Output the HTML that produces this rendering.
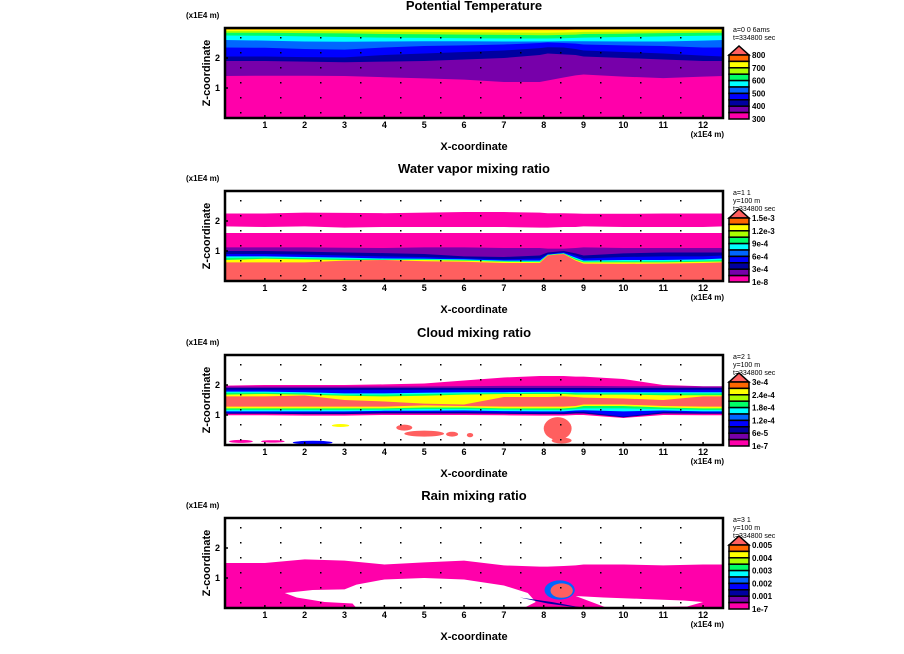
<!DOCTYPE html>
<html><head><meta charset="utf-8">
<style>
html,body{margin:0;padding:0;background:#fff;}
svg{display:block;font-family:"Liberation Sans",sans-serif;}
.t{font-size:13px;font-weight:bold;}
.s{font-size:8px;font-weight:bold;}
.k{font-size:9px;font-weight:bold;}
</style></head>
<body>
<svg id="c" width="904" height="654" viewBox="0 0 904 654"></svg>
<script>
// ---- data ----
const xTicks = [1,2,3,4,5,6,7,8,9,10,11,12];
const zTicks = [1,2];
const titles = ["Potential Temperature","Water vapor mixing ratio","Cloud mixing ratio","Rain mixing ratio"];
const legendColors = ["#ff6600","#ffff00","#aaff00","#00ff66","#00ffff","#0066ff","#0000ff","#0000a0","#7700aa","#ff00aa"];
const overColor = "#ff5f5f";
const legendLabels1 = ["800","700","600","500","400","300"];
const legendLabels2 = ["1.5e-3","1.2e-3","9e-4","6e-4","3e-4","1e-8"];
const legendLabels3 = ["3e-4","2.4e-4","1.8e-4","1.2e-4","6e-5","1e-7"];
const legendLabels4 = ["0.005","0.004","0.003","0.002","0.001","1e-7"];
const headers = [["a=0 0 6ams","t=334800 sec"],["a=1 1","y=100 m","t=334800 sec"],["a=2 1","y=100 m","t=334800 sec"],["a=3 1","y=100 m","t=334800 sec"]];
const xs = [0,1,2,3,4,5,6,7,7.9,8.1,8.5,8.8,9,10,11,12,12.5];
// panel 1 layer tops (km*1e4 units), drawn largest first
const p1Colors = ["#ff6600","#ffff00","#aaff00","#00ff66","#00ffff","#0066ff","#0000ff","#0000a0","#7700aa","#ff00aa"];
const p1Tops = [
 [3,3,3,3,3,3,3,3,3,3,3,3,3,3,3,3,3],
 [2.95,2.95,2.95,2.95,2.95,2.95,2.94,2.93,2.93,2.93,2.93,2.94,2.94,2.95,2.95,2.95,2.95],
 [2.9,2.9,2.9,2.89,2.88,2.87,2.86,2.85,2.84,2.84,2.85,2.86,2.87,2.88,2.89,2.9,2.9],
 [2.84,2.84,2.83,2.82,2.8,2.79,2.78,2.77,2.76,2.76,2.77,2.78,2.8,2.81,2.83,2.84,2.84],
 [2.75,2.74,2.72,2.7,2.68,2.67,2.66,2.65,2.65,2.65,2.66,2.67,2.68,2.7,2.72,2.74,2.75],
 [2.6,2.58,2.55,2.54,2.55,2.56,2.56,2.55,2.55,2.55,2.56,2.56,2.56,2.55,2.55,2.58,2.6],
 [2.35,2.34,2.3,2.28,2.35,2.4,2.42,2.45,2.5,2.52,2.5,2.48,2.45,2.42,2.4,2.35,2.35],
 [2.05,2.05,2.03,2.02,2.1,2.15,2.2,2.25,2.33,2.36,2.35,2.3,2.25,2.2,2.15,2.08,2.05],
 [1.9,1.9,1.88,1.86,1.88,1.9,1.95,2.0,2.1,2.15,2.12,2.1,2.05,2.0,1.95,1.9,1.9],
 [1.4,1.41,1.41,1.4,1.36,1.32,1.28,1.2,1.2,1.25,1.35,1.42,1.45,1.38,1.33,1.38,1.4]
];
// panel 2
const p2Colors = ["#ff00aa","#ffffff","#ff00aa","#7700aa","#0000a0","#0000ff","#00ffff","#00ff66","#ffff00","#ff5f5f"];
const p2Tops = [
 [2.25,2.25,2.28,2.27,2.26,2.28,2.3,2.3,2.28,2.26,2.26,2.25,2.24,2.24,2.25,2.25,2.25],
 [1.82,1.8,1.82,1.78,1.8,1.8,1.8,1.8,1.78,1.78,1.8,1.8,1.82,1.8,1.8,1.8,1.82],
 [1.6,1.6,1.6,1.6,1.6,1.6,1.6,1.6,1.6,1.6,1.6,1.6,1.6,1.6,1.6,1.6,1.6],
 [1.12,1.12,1.12,1.11,1.1,1.12,1.12,1.1,1.1,1.08,1.08,1.1,1.12,1.1,1.1,1.1,1.1],
 [1.0,1.0,0.98,0.95,0.93,0.9,0.82,0.8,0.85,0.95,1.0,0.92,0.85,0.92,0.95,0.95,0.95],
 [0.9,0.9,0.88,0.85,0.82,0.8,0.76,0.72,0.75,0.9,0.96,0.85,0.75,0.8,0.82,0.82,0.85],
 [0.82,0.82,0.8,0.78,0.75,0.74,0.72,0.68,0.68,0.88,0.93,0.78,0.68,0.7,0.7,0.72,0.75],
 [0.77,0.78,0.76,0.74,0.72,0.72,0.7,0.66,0.65,0.87,0.92,0.74,0.65,0.66,0.66,0.68,0.7],
 [0.7,0.74,0.72,0.7,0.7,0.7,0.68,0.64,0.63,0.86,0.91,0.71,0.62,0.62,0.62,0.64,0.65],
 [0.62,0.62,0.62,0.68,0.7,0.66,0.64,0.6,0.6,0.85,0.9,0.68,0.58,0.57,0.58,0.6,0.62]
];
// panel 3
const p3Colors = ["#ff00aa","#7700aa","#0000a0","#0000ff","#00ffff","#00ff66","#ffff00","#ff5f5f","#ffff00","#00ff66","#00ffff","#0000ff","#0000a0","#ff00aa","#ffffff"];
const p3Tops = [
 [1.98,2.0,2.0,2.0,2.02,2.05,2.15,2.25,2.3,2.3,2.3,2.28,2.28,2.2,2.0,1.96,1.96],
 [1.95,1.95,1.95,1.95,1.95,1.95,1.96,1.97,1.97,1.97,1.97,1.97,1.97,1.96,1.96,1.95,1.95],
 [1.9,1.9,1.9,1.9,1.9,1.9,1.9,1.9,1.9,1.9,1.9,1.9,1.9,1.9,1.9,1.9,1.9],
 [1.84,1.84,1.84,1.84,1.84,1.84,1.84,1.84,1.84,1.84,1.84,1.84,1.84,1.84,1.84,1.84,1.84],
 [1.78,1.78,1.76,1.72,1.72,1.74,1.76,1.76,1.77,1.77,1.77,1.76,1.76,1.76,1.76,1.76,1.76],
 [1.74,1.74,1.72,1.68,1.68,1.7,1.72,1.73,1.74,1.74,1.74,1.73,1.72,1.72,1.72,1.72,1.72],
 [1.68,1.7,1.68,1.64,1.62,1.64,1.68,1.7,1.7,1.7,1.7,1.68,1.68,1.68,1.66,1.66,1.66],
 [1.62,1.62,1.65,1.5,1.45,1.38,1.35,1.6,1.6,1.6,1.62,1.6,1.58,1.55,1.5,1.62,1.62],
 [1.28,1.28,1.28,1.28,1.28,1.32,1.3,1.28,1.28,1.28,1.28,1.3,1.35,1.35,1.3,1.28,1.28],
 [1.22,1.22,1.22,1.22,1.22,1.25,1.25,1.22,1.22,1.22,1.22,1.25,1.3,1.3,1.25,1.22,1.22],
 [1.17,1.17,1.17,1.17,1.18,1.2,1.2,1.18,1.17,1.17,1.17,1.2,1.22,1.22,1.2,1.17,1.17],
 [1.12,1.12,1.12,1.12,1.14,1.14,1.15,1.13,1.12,1.12,1.12,1.15,1.16,1.12,1.15,1.12,1.12],
 [1.08,1.08,1.08,1.08,1.1,1.1,1.1,1.08,1.08,1.08,1.08,1.1,1.1,0.95,1.1,1.08,1.08],
 [1.04,1.04,1.03,1.03,1.05,1.05,1.05,1.04,1.03,1.03,1.03,1.05,1.05,0.92,1.05,1.04,1.04],
 [0.99,0.99,0.98,0.98,1.0,1.0,1.0,0.99,0.98,0.98,0.98,1.0,1.0,0.9,1.0,0.99,0.99]
];
const p3BlobX = [8.35,8.45,4.5,5.0,5.7,6.15,2.9,0.4,2.2,1.2];
const p3BlobZ = [0.55,0.15,0.58,0.38,0.36,0.33,0.65,0.12,0.08,0.12];
const p3BlobRX = [0.35,0.25,0.2,0.5,0.15,0.08,0.22,0.3,0.5,0.3];
const p3BlobRZ = [0.38,0.1,0.1,0.1,0.08,0.07,0.05,0.05,0.06,0.04];
const p3BlobC = ["#ff5f5f","#ff5f5f","#ff5f5f","#ff5f5f","#ff5f5f","#ff5f5f","#ffff00","#ff00aa","#0000ff","#ff00aa"];
// panel 4
const p4Top = [1.5,1.5,1.62,1.58,1.45,1.52,1.58,1.42,1.38,1.38,1.4,1.42,1.45,1.45,1.42,1.45,1.45];
const p4HoleX = [1.5,2.2,3.0,3.3,4.0,5.0,6.0,7.0,7.6,7.8,7.5,3.3,3.2,2.5,1.8];
const p4HoleZ = [0.5,0.6,0.62,0.78,0.95,1.0,0.95,0.75,0.5,0.2,0.0,0.0,0.15,0.2,0.35];
const p4WedgeX = [8.8,9.5,10.5,11.5,12.0,11.6,9.6];
const p4WedgeZ = [0.4,0.35,0.3,0.25,0.2,0.05,0.0];
const p4BlobX = [8.4,8.45];
const p4BlobZ = [0.6,0.58];
const p4BlobRX = [0.38,0.28];
const p4BlobRZ = [0.32,0.24];
const p4BlobC = ["#0066ff","#ff5f5f"];
const p4StreakX = [7.4,8.2,8.8,9.1,8.95,8.1];
const p4StreakZ = [0.35,0.2,0.05,0.0,0.0,0.15];

// ---- layout ----
const NS="http://www.w3.org/2000/svg";
const svg=document.getElementById('c');
const L=225, W=498, H=90, XMAX=12.5, ZMAX=3;
const tops=[28,191,355,518];
function mk(tag,attrs,parent){const e=document.createElementNS(NS,tag);for(const k in attrs)e.setAttribute(k,attrs[k]);(parent||svg).appendChild(e);return e;}
function xp(v){return L+v/XMAX*W;}
function zp(top,v){return top+H-v/ZMAX*H;}
function txt(x,y,s,cls,anchor,parent){const t=mk('text',{x:x,y:y,class:cls,'text-anchor':anchor||'start'},parent);t.textContent=s;return t;}

function layer(g,top,hs,color){
  let pts=[xp(xs[0])+','+zp(top,0)];
  for(let i=0;i<xs.length;i++)pts.push(xp(xs[i])+','+zp(top,Math.min(hs[i],ZMAX)));
  pts.push(xp(xs[xs.length-1])+','+zp(top,0));
  const p=mk('polygon',{points:pts.join(' '),fill:color},g);
  
  
}
function poly(g,top,X,Z,color){
  const pts=X.map((x,i)=>xp(x)+','+zp(top,Z[i])).join(' ');
  const p=mk('polygon',{points:pts,fill:color},g);
  
  
}
function blobs(g,top,X,Z,RX,RZ,C){
  for(let i=0;i<X.length;i++){
    const e=mk('ellipse',{cx:xp(X[i]),cy:zp(top,Z[i]),rx:RX[i]/XMAX*W,ry:RZ[i]/ZMAX*H,fill:C[i]},g);
    
    
  }
}

const legendSets=[legendLabels1,legendLabels2,legendLabels3,legendLabels4];
for(let p=0;p<4;p++){
  const top=tops[p];
  const g=mk('g',{});
  
  
  const title=txt(474,top-18,titles[p],'t','middle',g);
  
  
  const ul=txt(186,top-10,'(x1E4 m)','s','start',g);
  
  
  const clipId='clip'+p;
  const cp=mk('clipPath',{id:clipId},g);
  mk('rect',{x:L,y:top,width:W,height:H},cp);
  const plot=mk('g',{'clip-path':'url(#'+clipId+')'},g);
  
  
  mk('rect',{x:L,y:top,width:W,height:H,fill:'#fff'},plot);
  if(p===0){for(let i=0;i<p1Tops.length;i++)layer(plot,top,p1Tops[i],p1Colors[i]);}
  if(p===1){for(let i=0;i<p2Tops.length;i++)layer(plot,top,p2Tops[i],p2Colors[i]);}
  if(p===2){for(let i=0;i<p3Tops.length;i++)layer(plot,top,p3Tops[i],p3Colors[i]);blobs(plot,top,p3BlobX,p3BlobZ,p3BlobRX,p3BlobRZ,p3BlobC);}
  if(p===3){layer(plot,top,p4Top,'#ff00aa');poly(plot,top,p4HoleX,p4HoleZ,'#fff');poly(plot,top,p4WedgeX,p4WedgeZ,'#fff');poly(plot,top,p4StreakX,p4StreakZ,'#0000a0');blobs(plot,top,p4BlobX,p4BlobZ,p4BlobRX,p4BlobRZ,p4BlobC);}
  // grid dots
  for(let xi=0;xi<12;xi++)for(let yi=0;yi<6;yi++){
    mk('rect',{x:240+xi*40,y:top+9+yi*15,width:1.5,height:1.5,fill:'#000'},plot);
  }
  const fr=mk('rect',{x:L,y:top,width:W,height:H,fill:'none',stroke:'#000','stroke-width':2.5},g);
  
  
  xTicks.forEach(v=>{
    mk('line',{x1:xp(v),x2:xp(v),y1:top+H,y2:top+H-3,stroke:'#000','stroke-width':1.5},g);
    const t=txt(xp(v),top+H+10,String(v),'k','middle',g);
    
    
  });
  zTicks.forEach(v=>{
    mk('line',{x1:L,x2:L+3,y1:zp(top,v),y2:zp(top,v),stroke:'#000','stroke-width':1.5},g);
    const t=txt(L-5,zp(top,v)+3,String(v),'k','end',g);
    
    
  });
  const xu=txt(724,top+H+19,'(x1E4 m)','s','end',g);
  
  
  const xt=txt(474,top+H+32,'X-coordinate','t','middle',g);
  
  
  xt.setAttribute('style','font-size:11px');
  const zt=mk('text',{x:0,y:0,class:'t','text-anchor':'middle',transform:'translate(210,'+(top+H/2)+') rotate(-90)',style:'font-size:11px'},g);
  zt.textContent='Z-coordinate';
  
  
  // legend
  const lg=mk('g',{},g);
  
  
  headers[p].forEach((s,i)=>{const t=txt(733,top+4+i*8,s,'s','start',lg);t.setAttribute('style','font-size:7px;font-weight:normal');});
  mk('polygon',{points:'729,'+(top+27)+' 739,'+(top+18)+' 749,'+(top+27),fill:overColor,stroke:'#000','stroke-width':1.5},lg);
  const bh=64/10;
  legendColors.forEach((c,i)=>{
    const r=mk('rect',{x:729,y:top+27+i*bh,width:20,height:bh,fill:c,stroke:'#000','stroke-width':1.5},lg);
    
    
  });
  legendSets[p].forEach((s,i)=>{
    const t=txt(752,top+30+i*2*bh,s,'s','start',lg);
    
    
  });
}
</script>
</body></html>
